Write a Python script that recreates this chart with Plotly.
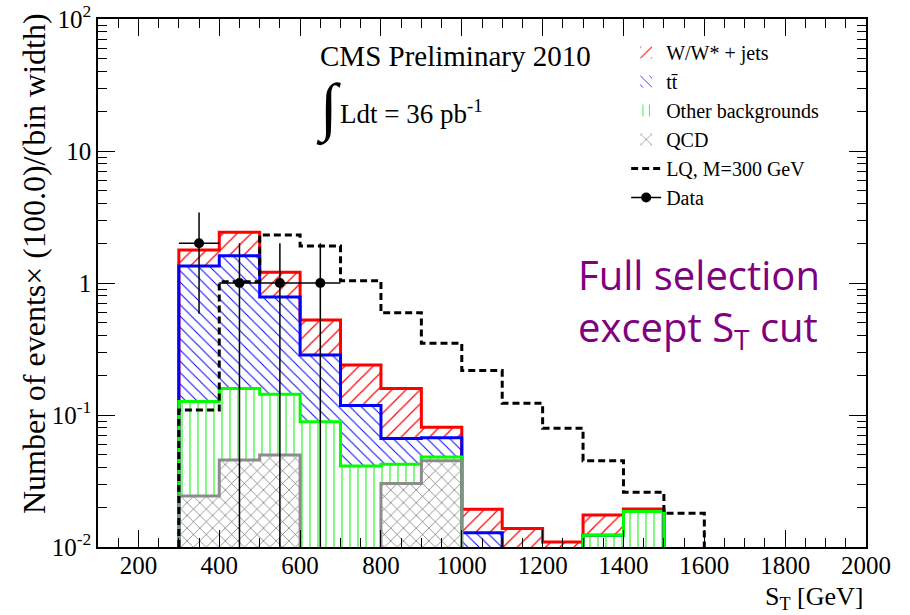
import numpy as np
import plotly.graph_objects as go

# ---------------- data (events per 100 GeV) ----------------
bin_edges = [300, 400, 500, 600, 700, 800, 900, 1000, 1100, 1200, 1300, 1400, 1500]
qcd    = [0.0243, 0.0456, 0.0498, 0.0, 0.0, 0.0303, 0.0451, 0.0, 0.0, 0.0, 0.0, 0.0]
other  = [0.102, 0.113, 0.094, 0.089, 0.041, 0.012, 0.003, 0.0, 0.0, 0.0, 0.0123, 0.0186]
ttbar  = [1.22, 1.45, 0.64, 0.196, 0.077, 0.024, 0.019, 0.0128, 0.0, 0.0, 0.0, 0.0]
w_jets = [0.43, 0.81, 0.42, 0.24, 0.1215, 0.0925, 0.0137, 0.0065, 0.0138, 0.0109, 0.0052, 0.0008]

lq_edges = [300, 400, 500, 600, 700, 800, 900, 1000, 1100, 1200, 1300, 1400, 1500, 1600]
lq_m300 = [0.109, 1.02, 2.31, 1.91, 1.04, 0.596, 0.349, 0.217, 0.1225, 0.0793, 0.0451, 0.026, 0.018]

data_counts = [2, 1, 1, 1, 0, 0, 0, 0, 0, 0, 0, 0]

y_tickvals = [0.01, 0.1, 1, 10, 100]
y_ticktext = ["10<sup>-2</sup>", "10<sup>-1</sup>", "1", "10", "10<sup>2</sup>"]
x_tickvals = list(range(200, 2001, 200))

# ---------------- helpers ----------------
edges = np.array(bin_edges, dtype=float)
centers = 0.5 * (edges[:-1] + edges[1:])
widths = np.diff(edges)

c_qcd = np.array(qcd)
c_other = c_qcd + np.array(other)
c_tt = c_other + np.array(ttbar)
c_tot = c_tt + np.array(w_jets)

FLOOR = 1e-4


def step_xy(e, vals):
    v = [x if x > 0 else FLOOR for x in vals]
    xs = [e[0]] + list(e[:-1]) + [e[-1]]
    ys = [FLOOR] + v + [FLOOR]
    return xs, ys


# plot-area pixel geometry
L, R, T, B = 97.5, 866.0, 19.0, 547.0
W, H = 910, 615


def px(x):
    return (x - L) / (R - L)


def py(y):
    return (B - y) / (B - T)


SERIF = "Liberation Serif"

fig = go.Figure()

# stacked hatched fills (QCD at bottom)
fills = [
    ("QCD", qcd, "x", "#606060", 4, 9, 0.14),
    ("Other backgrounds", other, "|", "#00ee00", 3, 8, 0.12),
    ("tt\u0304", ttbar, "\\", "#0000ff", 2, 8, 0.12),
    ("W/W* + jets", w_jets, "/", "#ff0000", 1, 10, 0.12),
]
for name, vals, shape, col, rank, size, sol in fills:
    fig.add_trace(go.Bar(
        x=centers, y=vals, width=widths, name=name, legendrank=rank,
        marker=dict(color="white", line=dict(width=0),
                    pattern=dict(shape=shape, fgcolor=col, bgcolor="white",
                                 size=size, solidity=sol, fillmode="replace")),
        hoverinfo="skip",
    ))

# outlines
for cum, col in [(c_tot, "#ff0000"), (c_tt, "#0000ff"), (c_other, "#00ff00"), (c_qcd, "#8c8c8c")]:
    xs, ys = step_xy(edges, cum)
    fig.add_trace(go.Scatter(x=xs, y=ys, mode="lines", line=dict(color=col, width=3, shape="hv"),
                             showlegend=False, hoverinfo="skip"))

# LQ signal
xs, ys = step_xy(np.array(lq_edges, float), lq_m300)
fig.add_trace(go.Scatter(x=xs, y=ys, mode="lines", name="LQ, M=300 GeV", legendrank=5,
                         line=dict(color="black", width=3, dash="7px,4px", shape="hv")))

# data
dc = np.array(data_counts, float)
mask = dc > 0
fig.add_trace(go.Scatter(
    x=centers[mask], y=dc[mask], mode="markers", showlegend=False,
    marker=dict(color="black", size=10),
    error_y=dict(type="data", array=np.sqrt(dc[mask]), arrayminus=np.sqrt(dc[mask]),
                 color="black", thickness=1.5, width=0),
    error_x=dict(type="data", array=widths[mask] / 2, color="black", thickness=1.5, width=0),
))
fig.add_trace(go.Scatter(x=[None], y=[None], mode="lines+markers", name="Data", legendrank=6,
                         line=dict(color="black", width=1.5), marker=dict(color="black", size=10)))

fig.update_layout(
    width=W, height=H,
    margin=dict(l=L, r=W - R, t=T, b=H - B),
    paper_bgcolor="white", plot_bgcolor="white",
    barmode="stack", bargap=0,
    font=dict(family=SERIF, color="black", size=25),
    showlegend=True,
    legend=dict(x=px(626), y=py(33), xanchor="left", yanchor="top",
                font=dict(family=SERIF, size=20), bgcolor="rgba(0,0,0,0)",
                traceorder="normal", itemwidth=30, tracegroupgap=0),
    xaxis=dict(range=[100, 2000], tickvals=x_tickvals, ticks="inside", ticklen=17,
               tickwidth=1, tickcolor="black", showline=True, linecolor="black",
               linewidth=1.5, mirror="ticks", showgrid=False, zeroline=False,
               automargin=False, ticklabelstandoff=-5,
               tickfont=dict(family=SERIF, size=25),
               minor=dict(ticks="inside", ticklen=9, dtick=50, tick0=0,
                          tickcolor="black", showgrid=False)),
    yaxis=dict(type="log", range=[-2, 2], tickvals=y_tickvals, ticktext=y_ticktext,
               ticks="inside", ticklen=17, tickwidth=1, tickcolor="black",
               showline=True, linecolor="black", linewidth=1.5, mirror="ticks",
               showgrid=False, zeroline=False, automargin=False,
               tickfont=dict(family=SERIF, size=25),
               minor=dict(ticks="inside", ticklen=9, tickcolor="black", showgrid=False,
                          tickvals=[m * 10.0 ** e for e in range(-2, 2) for m in range(2, 10)])),
)

ann = [
    dict(text="Number of events\u00d7 (100.0)/(bin width)", x=px(33), y=py(11),
         textangle=-90, xanchor="center", yanchor="top",
         font=dict(family=SERIF, size=32)),
    dict(text="S<sub>T</sub> [GeV]", x=1.0, y=py(598), xanchor="right", yanchor="middle",
         font=dict(family=SERIF, size=26)),
    dict(text="CMS Preliminary 2010", x=px(318), y=py(56), xanchor="left", yanchor="middle",
         font=dict(family=SERIF, size=29)),
    dict(text="\u222b", x=px(314), y=py(108), xanchor="left", yanchor="middle",
         font=dict(family=SERIF, size=64)),
    dict(text="Ldt = 36 pb<sup>-1</sup>", x=px(338), y=py(112), xanchor="left", yanchor="middle",
         font=dict(family=SERIF, size=27)),
    dict(text="Full selection", x=px(699), y=py(274), xanchor="center", yanchor="middle",
         font=dict(family="Open Sans", size=40, color="#800080")),
    dict(text="except S<sub>T</sub> cut", x=px(698), y=py(328), xanchor="center", yanchor="middle",
         font=dict(family="Open Sans", size=40, color="#800080")),
]
for a in ann:
    a.setdefault("xref", "paper")
    a.setdefault("yref", "paper")
    a["showarrow"] = False
    fig.add_annotation(**a)

fig.write_html("out.html")
